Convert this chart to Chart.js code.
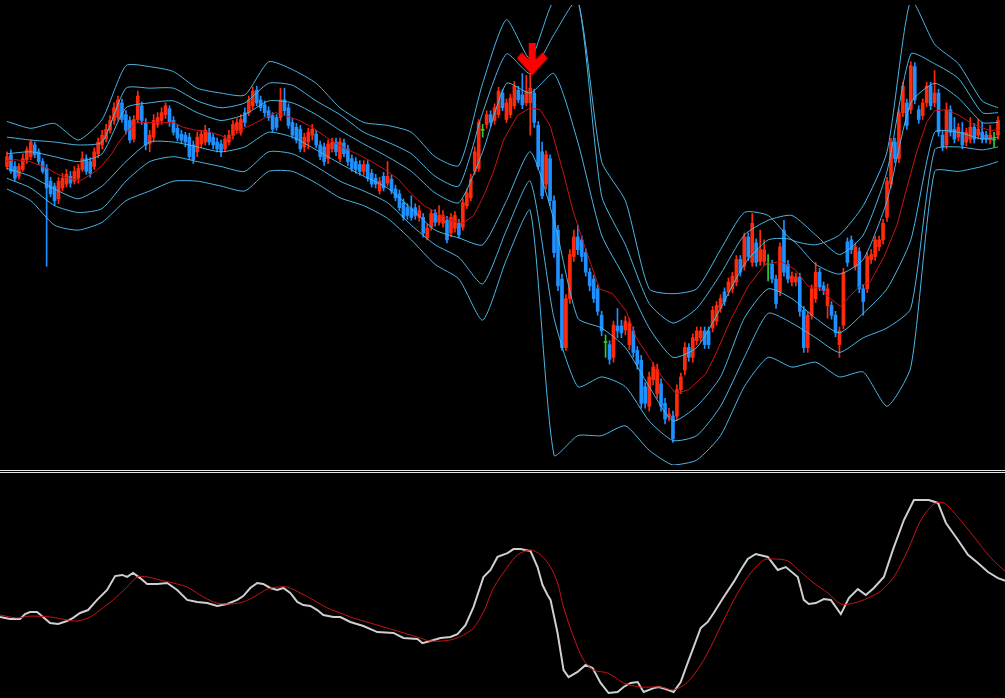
<!DOCTYPE html>
<html>
<head>
<meta charset="utf-8">
<script src="https://cdn.jsdelivr.net/npm/chart.js@4.4.0/dist/chart.umd.min.js"></script>
<style>
  body { margin: 0; background: #000; width: 1005px; height: 698px; overflow: hidden; position: relative; }
  #top { position: absolute; left: 0; top: 0; }
  #bot { position: absolute; left: 0; top: 473px; }
  .sep { position: absolute; left: 0; width: 1005px; height: 1px; background: #e8e8e8; }
</style>
</head>
<body>
<canvas id="top" width="1005" height="470"></canvas>
<div class="sep" style="top:470px"></div>
<div class="sep" style="top:472px"></div>
<canvas id="bot" width="1005" height="225"></canvas>
<script>
// ===== candles (price units)
var opens = [305,317,305,295,302,312,315,327,320,310, 303,290,285,272,283,287,295,290,293,302,
 313,310,305,318,327,333,342,352,355,370, 358,352,333,353,367,350,328,335,348,352,
 358,364,352,344,338,337,335,327,320,328, 330,340,335,330,328,323,330,337,342,340,
 360,360,367,383,373,368,362,357,355,355, 373,365,350,345,343,325,330,337,338,327,
 325,313,323,330,313,329,323,313,310,307, 300,307,298,293,280,295,288,292,282,277,
 268,263,262,263,253,253,232,243,257,248, 247,250,237,242,247,243,265,273,300,303,
 342,348,358,352,358,380,353,358,367,383, 378,370,370,380,347,320,287,313,270,240,
 190,120,170,213,233,230,217,197,190,180, 153,125,123,110,142,142,138,123,137,117,
 107,80,60,87,73,83,63,49,50,50, 77,97,120,110,127,130,137,137,140,147,
 160,177,177,180,187,210,203,233,207,227, 208,208,205,205,190,177,240,205,187,187,
 192,158,120,153,170,197,183,163,163,153, 123,143,228,230,203,218,180,180,210,213,
 223,230,253,287,330,313,360,370,363,407, 363,357,370,387,370,380,337,327,363,343,
 335,340,330,333,345,337,340,337,332,332, 337];
var highs = [320,322,310,308,318,325,332,330,323,313, 307,294,288,294,298,302,300,305,307,320,
 317,314,324,334,342,348,357,370,377,374, 362,356,357,382,371,354,342,358,360,365,
 370,367,356,348,342,340,339,331,340,342, 347,344,339,334,332,337,342,352,354,358,
 365,377,386,387,377,372,366,360,358,385, 385,369,354,349,347,339,344,348,342,331,
 329,332,334,334,334,333,327,317,314,311, 311,311,302,297,294,299,310,296,286,281,
 272,267,275,267,265,257,246,261,261,265, 260,254,257,259,251,272,282,297,325,353,
 348,362,362,369,386,384,374,379,392,387, 400,398,400,384,351,330,321,317,275,245,
 195,174,220,240,245,234,221,201,194,184, 157,133,127,147,160,148,152,150,141,121,
 112,84,95,105,103,88,68,58,55,82, 94,125,124,134,141,141,141,141,162,167,
 174,181,191,197,214,214,237,237,257,231, 240,230,215,209,194,227,250,209,197,196,
 196,162,157,184,207,201,187,185,167,157, 141,201,232,234,227,222,184,217,220,234,
 234,251,294,334,334,364,391,374,412,411, 367,374,391,391,403,384,341,370,367,355,
 349,350,344,355,349,353,350,341,347,340, 356];
var lows = [302,298,290,292,300,308,312,314,307,298, 203,274,265,267,280,284,284,287,288,300,
 297,294,302,314,323,330,339,348,352,350, 338,329,330,350,348,322,320,330,345,348,
 354,346,337,331,329,325,312,308,315,324, 327,327,323,320,315,320,327,333,339,337,
 346,357,364,367,362,356,352,340,342,352, 358,344,334,329,320,320,323,332,324,312,
 306,308,320,316,310,315,306,300,298,296, 296,290,284,283,277,280,285,277,270,260,
 250,251,250,251,249,233,230,240,244,245, 243,227,233,238,232,240,262,270,297,300,
 335,344,346,348,355,362,350,355,364,370, 364,367,337,345,302,272,282,265,212,178,
 117,117,165,208,215,208,193,178,166,153, 132,110,103,105,130,130,133,118,110,98,
 58,58,55,82,68,55,42,45,23,45, 73,92,106,105,123,126,119,119,136,143,
 156,163,173,176,183,193,199,209,203,203, 204,204,188,186,160,173,193,186,183,183,
 152,115,115,149,166,178,174,150,149,131, 110,139,203,216,199,176,153,176,206,209,
 219,226,249,283,309,309,356,343,359,369, 349,353,366,363,366,336,321,323,336,329,
 331,323,326,329,329,333,329,329,328,325, 333];
var closes = [315,300,293,305,313,322,330,317,310,300, 283,277,270,290,293,297,288,300,303,313,
 300,298,320,330,337,343,352,365,373,353, 342,332,353,377,352,327,337,352,355,360,
 367,350,340,334,332,330,315,312,335,338, 342,330,327,323,320,333,337,348,350,353,
 350,373,382,370,365,360,355,343,345,373, 362,347,337,332,323,335,340,343,327,315,
 310,328,330,320,330,318,310,303,302,300, 307,293,287,287,290,283,295,280,273,263,
 253,255,253,255,260,237,242,257,248,255, 255,230,253,255,235,268,278,292,320,350,
 342,358,350,365,382,365,370,375,387,373, 368,382,385,350,305,275,317,270,217,183,
 120,170,215,233,220,213,197,183,170,157, 137,125,108,143,137,135,147,145,115,103,
 63,63,90,100,98,60,47,52,27,77, 90,120,110,130,137,137,123,123,158,163,
 170,167,187,193,210,197,233,213,247,207, 220,220,205,190,165,223,197,190,193,192,
 157,120,153,180,197,182,178,180,153,135, 137,197,207,220,223,180,167,213,215,230,
 230,247,290,330,313,360,387,347,408,373, 353,370,387,367,380,340,325,363,340,333,
 345,327,340,345,333,343,333,333,337,332, 352];

// ===== moving average (red) : bar position / price
var midPos = [-0.5,2,5.75,7.75,10.25,12.75,16.25,18.75,21.25,23.75,26.25,28.25,30.25,32.75,36.25,39.5,42,44.5,47.75,51.25,
 53.75,56.25,57.75,60.25,62,65.25,67.75,70.25,73.75,77,81.25,84.5,88.75,92,95.25,98.75,102,105.25,108.75,112,
 115,117.75,120.25,122.75,125.25,128.75,132,134.5,137,140.25,142.75,146.25,149.5,152.75,156.25,158.75,162,165.25,168.75,172,
 176.25,178.75,182.75,187,191.25,195.25,198.75,202,205.25,207.75,210.25,212.75,215.25,217.75,221.25,224.5,227,229.5,232,234,
 237,240.25,243.75,247.75,250.75];
var midVal = [310,312,310,307,303,297,292,291,297,305,317,330,340,350,350,350,350,345,342,340,
 337,333,338,345,348,355,360,357,352,345,333,325,317,310,302,292,277,265,257,250,
 247,255,275,300,332,357,365,363,347,300,260,217,180,175,157,130,110,90,73,77,
 93,113,150,183,205,208,200,183,180,170,162,173,183,187,213,245,283,320,350,362,
 363,357,348,342,342];

// ===== envelope bands (blue)
var bandPos = [0,6,12,18,24,30,36,42,48,54,60,66,72,78,84,90,96,102,108,114,120,126,132,138,144,150,156,162,168,174,180,186,192,198,204,210,216,222,228,234,240,246,250];
var up3 = [351,344,349,332,353,408,407,402,385,380,378,412,404,390,365,350,347,340,315,306,390,455,415,475,475,310,270,180,175,180,220,258,255,230,225,235,265,320,475,430,410,372,365];
var up2 = [335,332,330,327,330,385,385,385,372,365,370,390,388,372,358,340,330,318,295,285,360,420,400,440,475,275,225,165,145,160,195,235,250,255,235,215,235,300,420,410,395,360,360];
var up1 = [318,320,315,310,318,365,370,372,360,352,358,372,370,358,342,328,315,300,278,268,320,390,380,400,330,235,190,140,110,120,160,205,230,230,205,195,210,270,370,390,375,350,350];
var lo1 = [303,295,282,272,285,310,330,330,325,320,325,340,335,322,308,295,283,262,240,232,225,270,320,250,150,140,120,80,45,60,90,150,180,170,150,135,155,180,230,340,340,333,335];
var lo2 = [293,283,265,258,262,290,310,315,310,305,300,320,318,305,290,280,268,245,225,212,185,240,290,150,80,90,80,45,25,30,60,110,155,145,130,115,130,140,160,322,325,322,325];
var lo3 = [282,270,245,240,248,270,280,290,290,285,280,300,300,288,273,265,252,230,205,190,148,210,260,10,30,30,40,15,0,5,30,80,110,100,105,90,95,60,100,300,300,305,310];

// ===== oscillator (bottom pane)
var oscPos = [-0.5,2,4.5,5.75,7,8.75,10.25,12,14,16.25,17.75,19.5,21.5,23.75,26.25,28.25,30,31.25,32.75,34.5,
 36.25,38.75,41.25,43.75,46.25,48.75,51.25,53.75,56.25,58.75,60.25,62,63.75,65.25,67,68.75,70.25,72,73.75,75.25,
 77,78.75,80.25,82.75,84.5,87,90.25,93.75,97.75,100.25,103.75,105,107,109.5,112,113.75,115.75,117.75,120.25,122,
 123.75,126.25,127.75,129.5,132,133.75,135,136.25,137,138.75,140.25,141.5,143.75,145.75,147.5,149.5,151.5,153.75,155.25,157,
 158.75,160.25,162.75,164,165.75,167.75,169.5,171.25,172.75,174.5,176.25,177.75,180.25,182.75,184.5,186.25,188.25,191.25,193.75,195.75,
 198.75,200.25,201.5,203.25,205.25,207,209.5,211.5,213.75,215.75,217.75,220.25,222.5,225.25,227.75,231.5,233.75,235.75,238.75,241.25,
 243.75,246.25,248.75,250.75];
var oscMain = [36,35.1,35.1,37.3,38.2,38.2,36,33.3,32.9,34.2,35.6,37.8,39.1,43.6,48,54.2,54.7,53.8,55.6,53.3,
 50.7,50.7,51.1,48,43.6,42.7,42.2,40.9,41.8,43.6,45.3,48.9,51.1,50.7,48.9,48,48.9,46.7,42.7,41.3,
 40.9,39.1,36.9,36,36,33.8,32,29.3,28.9,26.7,26.2,24.4,25.3,26.7,27.1,28.4,32.4,40.4,53.8,56.9,
 62.7,64.4,66.2,66.2,65.3,58.2,50.2,45.8,43.6,28.9,12.4,9.3,11.6,14.7,13.3,6.7,2.2,2.7,4.9,6.7,
 7.1,2.7,4.4,4.9,4,2.7,7.1,15.6,22.7,31.1,33.8,37.8,44.9,51.6,56.9,61.8,64,62.7,56.9,58.2,
 53.8,43.6,41.8,42.2,44,43.6,37.3,44.4,48.4,45.8,48.9,53.8,65.8,79.1,88,88,86.7,77.8,70.2,63.6,
 60,56,53.3,52];
var sigPos = [-0.5,3.75,7,12,16.25,18.75,22,24.5,27.75,31.25,33.75,36.25,39.5,42.75,46.25,50.25,53.75,57,60.25,63.75,
 66.25,68.75,71.25,74.5,77.75,81.25,84.5,87,92,97,103.75,107,112,115.25,117.75,120.25,122.75,126.25,128.75,132,
 134.5,137,138.75,140.25,142.75,145.25,147.75,151.25,155.25,159.5,164.5,167.75,171.25,174.5,177,180.25,183.75,187,190.25,192.75,
 196.25,199.5,202.75,206.25,209.5,212.75,216.25,219.5,222.75,226.25,229.5,232.75,235.25,238.75,242.75,247,250.75];
var oscSignal = [36.9,35.6,36.4,36,34.7,34.2,36,39.1,43.6,49.3,53.8,53.8,52.4,51.1,49.3,44.9,42.2,41.8,42.7,45.8,
 48.4,49.3,49.3,46.7,43.6,40,37.8,36,33.3,30.7,27.1,25.3,25.8,28,31.1,38.2,48.9,58.2,63.6,65.8,
 63.6,58.2,51.1,40.4,27.1,16.9,12.4,11.1,6.7,4.9,4.9,3.6,7.1,14.7,22.7,34.7,46.7,55.6,61.3,61.8,
 60.9,56,51.1,46.7,41.8,42.2,44.4,47.6,53.8,65.8,79.1,86.2,86.7,80.4,71.6,62.2,56];

// sell signal arrow
var arrowPos = [132.5];
var arrowVal = [414];

var RED = "#ff2a0c", BLUE = "#1e90ff", GREEN = "#32cd32", BAND = "#4cb6e6";

var labels = opens.map(function (v, i) { return i; });
var colors = opens.map(function (o, i) {
  if (closes[i] > o) return RED;
  if (closes[i] < o) return BLUE;
  return GREEN;
});
function pts(xs, ys) { return xs.map(function (x, i) { return { x: x, y: ys[i] }; }); }

function bandSet(vals) {
  return { type: "line", xAxisID: "xl", data: pts(bandPos, vals), borderColor: BAND, borderWidth: 1,
           pointRadius: 0, tension: 0.2, order: 1 };
}

// arrow glyph for the signal point
var arrow = document.createElement("canvas");
arrow.width = 31; arrow.height = 33;
var a = arrow.getContext("2d");
a.fillStyle = "#ff0000";
a.beginPath();
a.moveTo(12, 0); a.lineTo(19, 0); a.lineTo(19, 16); a.lineTo(26, 9); a.lineTo(31, 15);
a.lineTo(15.5, 32); a.lineTo(0, 15); a.lineTo(5, 9); a.lineTo(12, 16);
a.closePath(); a.fill();

var ctx = document.getElementById("top").getContext("2d");
var chartTop = new Chart(ctx, {
  type: "bar",
  data: {
    labels: labels,
    datasets: [
      { label: "wick", data: lows.map(function (l, i) { return [l, highs[i]]; }), backgroundColor: colors,
        barThickness: 1, grouped: false, order: 3 },
      { label: "body", data: opens.map(function (o, i) { return [o, closes[i]]; }), backgroundColor: colors,
        barThickness: 3, minBarLength: 1, grouped: false, order: 2 },
      bandSet(up3), bandSet(up2), bandSet(up1), bandSet(lo1), bandSet(lo2), bandSet(lo3),
      { type: "line", xAxisID: "xl", data: pts(midPos, midVal), borderColor: "#c81414", borderWidth: 1,
        pointRadius: 0, tension: 0, order: 0 },
      { type: "scatter", xAxisID: "xl", data: pts(arrowPos, arrowVal), pointStyle: arrow, order: -1 }
    ]
  },
  options: {
    responsive: false,
    animation: false,
    events: [],
    layout: { padding: 0 },
    plugins: { legend: { display: false }, tooltip: { enabled: false } },
    scales: {
      x: { display: false, offset: true },
      xl: { type: "linear", display: false, offset: false, grid: { offset: false }, min: -0.5, max: 250.5 },
      y: { display: false, min: 0, max: 470 }
    }
  }
});

var ctx2 = document.getElementById("bot").getContext("2d");
var chartBot = new Chart(ctx2, {
  type: "line",
  data: {
    datasets: [
      { data: pts(sigPos, oscSignal), borderColor: "#c81414", borderWidth: 1, pointRadius: 0, tension: 0.3 },
      { data: pts(oscPos, oscMain), borderColor: "#cfcfcf", borderWidth: 2, pointRadius: 0, tension: 0 }
    ]
  },
  options: {
    responsive: false,
    animation: false,
    events: [],
    layout: { padding: 0 },
    plugins: { legend: { display: false }, tooltip: { enabled: false } },
    scales: {
      x: { type: "linear", display: false, min: -0.5, max: 250.5 },
      y: { display: false, min: 0, max: 100 }
    }
  }
});
</script>
</body>
</html>
